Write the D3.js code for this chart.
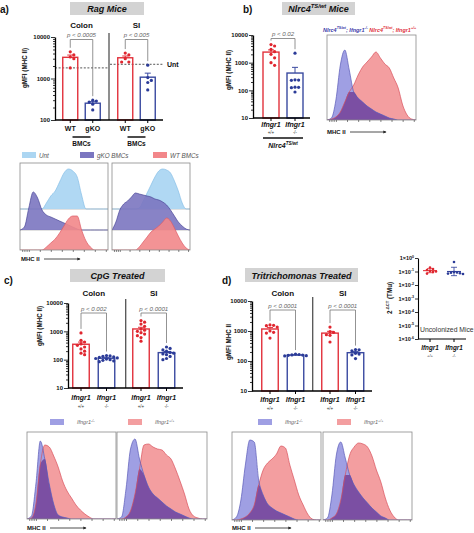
<!DOCTYPE html>
<html><head><meta charset="utf-8">
<script src="https://cdn.jsdelivr.net/npm/d3@7/dist/d3.min.js"></script>
<style>
html,body{margin:0;padding:0;background:#fff;}
svg{display:block;}
</style></head>
<body>
<svg id="fig" width="474" height="533"></svg>
<script>
// ================= DATA =================
// Panel a: Rag mice, gMFI (MHC II)
const ragTissues = ["Colon", "SI"];
const ragGenotypes = ["WT", "gKO"];
const ragColonWT = [4400, 3700, 3300, 3000, 1800];
const ragColonGKO = [300, 285, 270, 240, 175];
const ragSIWT = [4100, 3700, 3000, 2500, 2500];
const ragSIGKO = [2100, 1050, 900, 800, 530];
const ragUnt = [1800, 2200];
const ragPValues = ["p < 0.0005", "p < 0.005"];
const ragTicks = [100, 1000, 10000];

// Panel b: Nlrc4 TS/wt mice
const nlrcGroups = ["Nlrc4"];
const ifngGenotypes = ["+/+", "-/-"];
const nlrcWT = [4500, 4000, 3000, 2500, 2000, 1500, 1000, 800];
const nlrcKO = [2200, 240, 235, 230, 130, 128, 125, 87];
const nlrcPValues = ["p < 0.02"];
const ticks10 = [10, 100, 1000, 10000];

// Panel c: CpG treated
const cpgColonWT = [880, 480, 420, 360, 320, 280, 240, 200, 170, 150];
const cpgColonKO = [140, 135, 130, 125, 120, 115, 110, 105, 100, 95, 90, 85];
const cpgSIWT = [2400, 2100, 1800, 1500, 1200, 1100, 1000, 900, 800, 700, 600, 450];
const cpgSIKO = [280, 250, 220, 200, 180, 170, 160, 150, 130, 110, 100];
const cpgPValues = ["p < 0.002", "p < 0.0001"];

// Panel d: Tritrichomonas treated
const triColonWT = [1600, 1550, 1500, 1350, 1000, 900, 850, 580];
const triColonKO = [170, 165, 160, 158, 155, 150, 148];
const triSIWT = [1350, 950, 900, 750, 720, 430];
const triSIKO = [240, 235, 220, 180, 170, 160, 120];
const triPValues = ["p < 0.0001", "p < 0.0001"];

// Inset: 2^-dCT (TMu), uncolonized mice
const tmuWT = [0.2, 0.15, 0.13, 0.11, 0.1, 0.09, 0.07];
const tmuKO = [0.5, 0.09, 0.085, 0.08, 0.075, 0.07, 0.065];
const tmuExponents = [0, -1, -2, -3, -4, -5, -6];

// Flow histograms (relative counts per MHC II bin)
const histRagColonUnt = [0,0,0,0,0,0,6,13,18,27,36,40,38,32,14,0,0,0,0,0,0];
const histRagColonGKO = [0,3,22,38,32,20,15,13,11,9,7,5,3,1,0,0,0,0,0,0,0];
const histRagColonWT  = [0,0,0,0,0,0,3,7,11,17,24,31,34,34,20,9,3,0,0,0,0];
const histRagSIUnt    = [0,0,0,0,0,0,0,1,8,16,24,32,38,40,39,36,28,18,6,0,0];
const histRagSIGKO    = [0,8,20,26,29,33,37,36,35,34,33,31,30,28,25,20,14,8,4,1,0];
const histRagSIWT     = [0,0,0,0,0,0,0,3,8,13,18,21,24,28,32,29,22,14,7,2,0];

const histNlrcKO = [0,2,20,55,70,50,28,22,18,14,11,8,6,4,2,1,0,0,0,0,0];
const histNlrcWT = [0,1,3,8,18,28,35,45,53,58,63,68,62,56,52,42,32,15,5,1,0];

const histCpgColonKO = [0,3,35,78,60,35,15,4,2,1,0,0,0,0,0,0,0,0,0,0,0];
const histCpgColonWT = [0,1,15,55,74,72,63,52,38,28,21,14,9,5,2,0,0,0,0,0,0];
const histCpgSIKO    = [0,2,30,70,80,60,44,32,25,21,17,13,10,7,5,3,1,0,0,0,0];
const histCpgSIWT    = [0,0,2,8,25,50,74,75,72,70,69,64,60,50,38,25,10,3,1,0,0];

const histTriColonKO = [0,3,20,55,80,78,40,25,16,12,9,7,5,3,1,0,0,0,0,0,0];
const histTriColonWT = [0,0,1,3,7,15,35,50,57,61,66,74,72,55,40,25,15,6,1,0,0];
const histTriSIKO    = [0,2,25,65,78,62,45,35,28,22,17,12,8,4,2,0,0,0,0,0,0];
const histTriSIWT    = [0,0,2,6,20,45,65,73,77,76,73,64,50,38,22,10,3,0,0,0,0];

const histTicks = [0.5, 1, 1.5, 2, 4.5, 7, 9.5, 12, 14.5, 17, 19.5];

// ================= STYLE =================
const FONT = "'Liberation Sans', Arial, Helvetica, sans-serif";
const RED = "#e2323c", BLUE = "#3a4aa0", RED_DOT = "#e0262f", BLUE_DOT = "#2b3b98";
const svg = d3.select("#fig").attr("font-family", FONT);

const defs = svg.append("defs");
defs.append("marker").attr("id","arrow").attr("viewBox","0 0 6 6").attr("refX",5).attr("refY",3)
  .attr("markerWidth",4).attr("markerHeight",4).attr("orient","auto")
  .append("path").attr("d","M0,0 L6,3 L0,6 Z").attr("fill","#222");

function txt(g, x, y, s, size, opts = {}) {
  const t = g.append("text").attr("x", x).attr("y", y).attr("font-size", size).text(s);
  for (const k in opts) t.attr(k, opts[k]);
  return t;
}
function rich(g, x, y, parts, size, opts = {}) {
  const t = g.append("text").attr("x", x).attr("y", y).attr("font-size", size);
  for (const k in opts) t.attr(k, opts[k]);
  let shifted = 0;
  parts.forEach(p => {
    const sp = t.append("tspan").text(p.t);
    if (p.sup) { sp.attr("font-size", size * 0.65).attr("dy", -size * 0.4 - shifted); shifted = -size * 0.4; }
    else if (shifted) { sp.attr("dy", -shifted); shifted = 0; }
    if (p.fill) sp.attr("fill", p.fill);
  });
  return t;
}
function titleBox(x, y, w, h, parts, size) {
  svg.append("rect").attr("x", x).attr("y", y).attr("width", w).attr("height", h).attr("fill", "#d3d3d3");
  rich(svg, x + w / 2, y + h - 3, parts, size, {"text-anchor": "middle", "font-weight": "bold", "font-style": "italic", "fill": "#111"});
}
function swarm(values, y, cx, r) {
  const pts = values.map(v => ({v, py: y(v)})).sort((a, b) => a.py - b.py);
  const placed = [];
  const step = 2 * r + 0.4;
  pts.forEach(d => {
    const cands = [0];
    for (let k = 1; k < 8; k++) cands.push(k * step, -k * step);
    d.px = cx;
    for (const off of cands) {
      if (placed.every(p => Math.hypot(p.px - (cx + off), p.py - d.py) >= 2 * r + 0.3)) { d.px = cx + off; break; }
    }
    placed.push(d);
  });
  return placed;
}
function logAxis(g, y, x, decades) {
  const minor = [];
  decades.slice(0, -1).forEach(d => { for (let k = 2; k < 10; k++) minor.push(d * k); });
  const ax = d3.axisLeft(y).tickValues(decades.concat(minor)).tickSize(4).tickSizeOuter(0)
    .tickFormat(d => decades.includes(d) ? d3.format("d")(d) : "");
  const ga = g.append("g").attr("transform", `translate(${x},0)`).call(ax);
  ga.select(".domain").attr("stroke", "#000").attr("stroke-width", 1.3);
  ga.selectAll(".tick line").attr("stroke", "#000").attr("stroke-width", 0.8);
  ga.selectAll(".tick").filter(d => !decades.includes(d)).select("line").attr("x2", -2);
  ga.selectAll("text").attr("font-size", 6).attr("font-weight", "bold").attr("font-family", FONT).attr("x", -5).attr("fill", "#111");
}

function barChart(o) {
  const g = svg.append("g");
  const y = d3.scaleLog().domain(o.domain).range([o.yBot, o.yTop]);
  const outer = d3.scaleBand().domain(o.groups).range(o.range);
  const inner = d3.scalePoint().domain(o.genos).range([-o.half, o.half]);
  const cx = (gr, ge) => outer(gr) + outer.bandwidth() / 2 + inner(ge);

  for (let i = 1; i < o.groups.length; i++) {
    const xd = outer(o.groups[i]) + (o.divShift || 0);
    g.append("line").attr("x1", xd).attr("x2", xd).attr("y1", o.yTop - 4).attr("y2", o.yBot)
      .attr("stroke", "#333").attr("stroke-width", 1.1);
  }
  if (o.ref) {
    o.groups.forEach((gr, i) => {
      g.append("line").attr("x1", Math.max(outer(gr) + 1, o.axisX)).attr("x2", outer(gr) + outer.bandwidth() - 1)
        .attr("y1", y(o.ref[i])).attr("y2", y(o.ref[i]))
        .attr("stroke", "#555").attr("stroke-width", 1).attr("stroke-dasharray", "2,1.6");
    });
    txt(g, outer.range()[1] + 3, y(o.ref[o.ref.length - 1]) + 2.5, "Unt", 7, {"font-weight": "bold", fill: "#111"});
  }
  const stats = {};
  o.series.forEach(s => {
    const c = cx(s.group, s.geno);
    const m = d3.mean(s.values);
    const sem = d3.deviation(s.values) / Math.sqrt(s.values.length);
    stats[s.group + s.geno] = {c, top: Math.min(y(d3.max(s.values)), y(m + sem))};
    g.append("line").attr("x1", c).attr("x2", c).attr("y1", y(m)).attr("y2", y(m + sem)).attr("stroke", s.color).attr("stroke-width", 1);
    g.append("line").attr("x1", c - 3).attr("x2", c + 3).attr("y1", y(m + sem)).attr("y2", y(m + sem)).attr("stroke", s.color).attr("stroke-width", 1);
    g.append("rect").attr("x", c - o.barW / 2).attr("y", y(m)).attr("width", o.barW).attr("height", o.yBot - y(m))
      .attr("fill", "none").attr("stroke", s.color).attr("stroke-width", 1.4);
    swarm(s.values, y, c, 1.6).forEach(d => {
      g.append("circle").attr("cx", d.px).attr("cy", d.py).attr("r", 1.6).attr("fill", s.dot);
    });
  });
  logAxis(g, y, o.axisX, o.ticks);
  g.append("line").attr("x1", o.axisX).attr("x2", o.xEnd).attr("y1", o.yBot).attr("y2", o.yBot).attr("stroke", "#000").attr("stroke-width", 1.3);
  o.series.forEach(s => {
    const c = cx(s.group, s.geno);
    g.append("line").attr("x1", c).attr("x2", c).attr("y1", o.yBot).attr("y2", o.yBot + 3).attr("stroke", "#000").attr("stroke-width", 1);
  });
  o.groups.forEach((gr, i) => {
    const a = stats[gr + o.genos[0]], b = stats[gr + o.genos[1]];
    g.append("path").attr("d", `M${a.c},${a.top - 4}V${o.brY}H${b.c}V${b.top - 4}`)
      .attr("fill", "none").attr("stroke", "#777").attr("stroke-width", 0.8);
    txt(g, (a.c + b.c) / 2, o.brY - 2.3, o.pvals[i], 6.1, {"text-anchor": "middle", "font-style": "italic", fill: "#666"});
    if (o.groupLabelY) txt(g, (a.c + b.c) / 2, o.groupLabelY, gr, 8, {"text-anchor": "middle", "font-weight": "bold", fill: "#111"});
  });
  if (o.xLabels) o.xLabels(g, cx);
  txt(g, 0, 0, o.yLabel, 6.3, {"font-weight": "bold", "text-anchor": "middle", fill: "#111",
      transform: `translate(${o.yLabelX},${o.yLabelY}) rotate(-90)`});
  return {y, cx};
}

function histogram(o) {
  const g = svg.append("g");
  const n = o.rows[0].data.length;
  const x = d3.scaleLinear().domain([0, n - 1]).range([o.x0, o.x1]);
  const id = "clip" + Math.round(o.x0) + "_" + Math.round(o.y0);
  g.append("clipPath").attr("id", id).append("rect").attr("x", o.x0).attr("y", o.y0).attr("width", o.x1 - o.x0).attr("height", o.y1 - o.y0);
  const inner = g.append("g").attr("clip-path", `url(#${id})`);
  (o.baselines || []).forEach(b => inner.append("line").attr("x1", o.x0).attr("x2", o.x1).attr("y1", b).attr("y2", b).attr("stroke", "#aaa").attr("stroke-width", 0.7));
  const mk = r => {
    const y = d3.scaleLinear().domain([0, 100]).range([r.base, r.base - 100]);
    return {
      area: d3.area().x((d, i) => x(i)).y0(r.base).y1(d => y(d)).curve(d3.curveMonotoneX),
      line: d3.line().x((d, i) => x(i)).y(d => y(d)).curve(d3.curveMonotoneX)
    };
  };
  o.rows.forEach(r => {
    const f = mk(r);
    inner.append("path").datum(r.data).attr("d", f.area).attr("fill", r.fill).attr("fill-opacity", r.opacity || 1);
    if (!o.overlap) inner.append("path").datum(r.data).attr("d", f.line).attr("fill", "none").attr("stroke", r.stroke).attr("stroke-width", 0.7);
  });
  if (o.overlap) {
    const [a, b] = o.rows;
    const mins = a.data.map((v, i) => Math.min(v, b.data[i]));
    inner.append("path").datum(mins).attr("d", mk(a).area).attr("fill", o.overlap);
    o.rows.forEach(r => inner.append("path").datum(r.data).attr("d", mk(r).line).attr("fill", "none").attr("stroke", r.stroke).attr("stroke-width", 0.7));
  }
  g.append("rect").attr("x", o.x0).attr("y", o.y0).attr("width", o.x1 - o.x0).attr("height", o.y1 - o.y0)
    .attr("fill", "none").attr("stroke", "#8a8a8a").attr("stroke-width", 0.8);
  const ax = d3.axisBottom(x).tickValues(histTicks).tickSize(2).tickFormat("");
  const ga = g.append("g").attr("transform", `translate(0,${o.y1})`).call(ax);
  ga.select(".domain").remove();
  ga.selectAll(".tick line").attr("stroke", "#333").attr("stroke-width", 0.6);
}
function mhcArrow(x, y, len) {
  txt(svg, x, y, "MHC II", 6, {"font-weight": "bold", fill: "#111"});
  svg.append("line").attr("x1", x + 23).attr("x2", x + 23 + len).attr("y1", y - 2).attr("y2", y - 2)
    .attr("stroke", "#222").attr("stroke-width", 0.8).attr("marker-end", "url(#arrow)");
}

// colours for histograms
const H_RED = "#f39ea0", H_RED_S = "#d9505c", H_BLUE = "#9f9fe3", H_BLUE_S = "#5a5ab8", H_OVER = "#7b4fa3";

// ================= PANEL LETTERS & TITLES =================
txt(svg, 0, 13, "a)", 10, {"font-weight": "bold", fill: "#111"});
txt(svg, 243, 13, "b)", 10, {"font-weight": "bold", fill: "#111"});
txt(svg, 4, 284, "c)", 10, {"font-weight": "bold", fill: "#111"});
txt(svg, 222, 284, "d)", 10, {"font-weight": "bold", fill: "#111"});
titleBox(70, 2, 74, 13, [{t: "Rag Mice"}], 9);
titleBox(282, 2, 73, 13, [{t: "Nlrc4"}, {t: "TS/wt", sup: true}, {t: " Mice"}], 9);
titleBox(70, 269, 95, 13, [{t: "CpG Treated"}], 9);
titleBox(245, 268, 113, 14, [{t: "Tritrichomonas Treated"}], 9);

// ================= PANEL A =================
barChart({
  domain: [100, 10000], yTop: 37, yBot: 120, axisX: 55, xEnd: 163,
  groups: ragTissues, genos: ragGenotypes, range: [54, 164], half: 11.25, barW: 15,
  ticks: ragTicks, ref: ragUnt, pvals: ragPValues, brY: 39.5, groupLabelY: 28,
  series: [
    {group: "Colon", geno: "WT", values: ragColonWT, color: RED, dot: RED_DOT},
    {group: "Colon", geno: "gKO", values: ragColonGKO, color: BLUE, dot: BLUE_DOT},
    {group: "SI", geno: "WT", values: ragSIWT, color: RED, dot: RED_DOT},
    {group: "SI", geno: "gKO", values: ragSIGKO, color: BLUE, dot: BLUE_DOT}
  ],
  yLabel: "gMFI (MHC II)", yLabelX: 27, yLabelY: 68,
  xLabels: (g, cx) => {
    ragTissues.forEach(t => {
      ragGenotypes.forEach(ge => txt(g, cx(t, ge), 131, ge, 7, {"text-anchor": "middle", "font-weight": "bold", fill: "#111"}));
      const mid = (cx(t, ragGenotypes[0]) + cx(t, ragGenotypes[1])) / 2;
      g.append("line").attr("x1", mid - 9).attr("x2", mid + 9).attr("y1", 137).attr("y2", 137).attr("stroke", "#111").attr("stroke-width", 1.5);
      txt(g, mid, 146, "BMCs", 6.5, {"text-anchor": "middle", "font-weight": "bold", fill: "#111"});
    });
  }
});
// legend a
[[22, "#acd6f2", "Unt"], [80, "#7b76c0", "gKO BMCs"], [153, "#f2878a", "WT BMCs"]].forEach(([x, c, l]) => {
  svg.append("rect").attr("x", x).attr("y", 152).attr("width", 14).attr("height", 6).attr("fill", c);
  txt(svg, x + 17, 157.5, l, 6.3, {"font-style": "italic", fill: "#555"});
});
histogram({x0: 20, x1: 108, y0: 163, y1: 250, baselines: [209, 230], rows: [
  {data: histRagColonUnt, base: 209, fill: "#acd6f2", stroke: "#86bfe6", opacity: 0.95},
  {data: histRagColonGKO, base: 230, fill: "#7b76c0", stroke: "#4a4898", opacity: 0.9},
  {data: histRagColonWT, base: 250, fill: "#f2878a", stroke: "#dc5a66", opacity: 0.9}
]});
histogram({x0: 112, x1: 190, y0: 163, y1: 250, baselines: [209, 230], rows: [
  {data: histRagSIUnt, base: 209, fill: "#acd6f2", stroke: "#86bfe6", opacity: 0.95},
  {data: histRagSIGKO, base: 230, fill: "#7b76c0", stroke: "#4a4898", opacity: 0.9},
  {data: histRagSIWT, base: 250, fill: "#f2878a", stroke: "#dc5a66", opacity: 0.9}
]});
mhcArrow(21, 261, 36);

// ================= PANEL B =================
barChart({
  domain: [10, 10000], yTop: 35, yBot: 118, axisX: 253, xEnd: 310,
  groups: nlrcGroups, genos: ifngGenotypes, range: [253, 313], half: 12, barW: 16,
  ticks: ticks10, pvals: nlrcPValues, brY: 38.5,
  series: [
    {group: "Nlrc4", geno: "+/+", values: nlrcWT, color: RED, dot: RED_DOT},
    {group: "Nlrc4", geno: "-/-", values: nlrcKO, color: BLUE, dot: BLUE_DOT}
  ],
  yLabel: "gMFI (MHC II)", yLabelX: 231, yLabelY: 70,
  xLabels: (g, cx) => {
    ifngGenotypes.forEach(ge => {
      txt(g, cx("Nlrc4", ge), 127, "Ifngr1", 7, {"text-anchor": "middle", "font-weight": "bold", "font-style": "italic", fill: "#111"});
      txt(g, cx("Nlrc4", ge), 134, ge, 4.5, {"text-anchor": "middle", fill: "#333"});
    });
    g.append("line").attr("x1", 263).attr("x2", 303).attr("y1", 138).attr("y2", 138).attr("stroke", "#111").attr("stroke-width", 1.5);
    rich(g, 283, 148, [{t: "Nlrc4"}, {t: "TS/wt", sup: true}], 7, {"text-anchor": "middle", "font-weight": "bold", "font-style": "italic", fill: "#111"});
  }
});
histogram({x0: 327, x1: 416, y0: 35, y1: 120, overlap: H_OVER, rows: [
  {data: histNlrcWT, base: 120, fill: H_RED, stroke: H_RED_S},
  {data: histNlrcKO, base: 120, fill: H_BLUE, stroke: H_BLUE_S}
]});
rich(svg, 323, 31.5, [
  {t: "Nlrc4", fill: "#3a3aa8"}, {t: "TS/wt", sup: true, fill: "#3a3aa8"}, {t: "; Ifngr1", fill: "#3a3aa8"}, {t: "-/-", sup: true, fill: "#3a3aa8"},
  {t: " Nlrc4", fill: "#e0303a"}, {t: "TS/wt", sup: true, fill: "#e0303a"}, {t: "; Ifngr1", fill: "#e0303a"}, {t: "+/+", sup: true, fill: "#e0303a"}
], 5.6, {"font-weight": "bold", "font-style": "italic", textLength: 93, lengthAdjust: "spacingAndGlyphs"});
mhcArrow(327, 134, 36);

// ================= PANEL C =================
function ifngLabels(yb) {
  return (g, cx) => ["Colon", "SI"].forEach(t => ifngGenotypes.forEach(ge => {
    txt(g, cx(t, ge), yb, "Ifngr1", 7, {"text-anchor": "middle", "font-weight": "bold", "font-style": "italic", fill: "#111"});
    txt(g, cx(t, ge), yb + 7.5, ge, 4.5, {"text-anchor": "middle", fill: "#333"});
  }));
}
barChart({
  domain: [10, 10000], yTop: 303, yBot: 388, axisX: 68, xEnd: 183,
  groups: ["Colon", "SI"], genos: ifngGenotypes, range: [63.75, 183.75], half: 12.75, barW: 16.5, divShift: 2,
  ticks: ticks10, pvals: cpgPValues, brY: 313, groupLabelY: 296,
  series: [
    {group: "Colon", geno: "+/+", values: cpgColonWT, color: RED, dot: RED_DOT},
    {group: "Colon", geno: "-/-", values: cpgColonKO, color: BLUE, dot: BLUE_DOT},
    {group: "SI", geno: "+/+", values: cpgSIWT, color: RED, dot: RED_DOT},
    {group: "SI", geno: "-/-", values: cpgSIKO, color: BLUE, dot: BLUE_DOT}
  ],
  yLabel: "gMFI (MHC II)", yLabelX: 42, yLabelY: 326, xLabels: ifngLabels(400)
});
function ifngLegend(xb, xr, y) {
  svg.append("rect").attr("x", xb).attr("y", y - 3).attr("width", 14).attr("height", 6).attr("fill", H_BLUE);
  rich(svg, xb + 27, y + 2, [{t: "Ifngr1"}, {t: "-/-", sup: true}], 5.5, {"font-style": "italic", fill: "#666"});
  svg.append("rect").attr("x", xr).attr("y", y - 3).attr("width", 14).attr("height", 6).attr("fill", H_RED);
  rich(svg, xr + 27, y + 2, [{t: "Ifngr1"}, {t: "+/+", sup: true}], 5.5, {"font-style": "italic", fill: "#666"});
}
ifngLegend(50, 128, 422);
histogram({x0: 27, x1: 116, y0: 432, y1: 519, overlap: H_OVER, rows: [
  {data: histCpgColonWT, base: 519, fill: H_RED, stroke: H_RED_S},
  {data: histCpgColonKO, base: 519, fill: H_BLUE, stroke: H_BLUE_S}
]});
histogram({x0: 117, x1: 207, y0: 432, y1: 519, overlap: H_OVER, rows: [
  {data: histCpgSIWT, base: 519, fill: H_RED, stroke: H_RED_S},
  {data: histCpgSIKO, base: 519, fill: H_BLUE, stroke: H_BLUE_S}
]});
mhcArrow(27, 530, 36);

// ================= PANEL D =================
barChart({
  domain: [10, 10000], yTop: 301, yBot: 391, axisX: 252, xEnd: 372,
  groups: ["Colon", "SI"], genos: ifngGenotypes, range: [252.75, 372.75], half: 12.75, barW: 16.5,
  ticks: ticks10, pvals: triPValues, brY: 310, groupLabelY: 296,
  series: [
    {group: "Colon", geno: "+/+", values: triColonWT, color: RED, dot: RED_DOT},
    {group: "Colon", geno: "-/-", values: triColonKO, color: BLUE, dot: BLUE_DOT},
    {group: "SI", geno: "+/+", values: triSIWT, color: RED, dot: RED_DOT},
    {group: "SI", geno: "-/-", values: triSIKO, color: BLUE, dot: BLUE_DOT}
  ],
  yLabel: "gMFI MHC II", yLabelX: 231, yLabelY: 342, xLabels: ifngLabels(402)
});
ifngLegend(258, 337, 422);
histogram({x0: 232, x1: 321, y0: 432, y1: 520, overlap: H_OVER, rows: [
  {data: histTriColonWT, base: 520, fill: H_RED, stroke: H_RED_S},
  {data: histTriColonKO, base: 520, fill: H_BLUE, stroke: H_BLUE_S}
]});
histogram({x0: 323, x1: 412, y0: 432, y1: 520, overlap: H_OVER, rows: [
  {data: histTriSIWT, base: 520, fill: H_RED, stroke: H_RED_S},
  {data: histTriSIKO, base: 520, fill: H_BLUE, stroke: H_BLUE_S}
]});
mhcArrow(232, 530, 36);

// ================= INSET (TMu) =================
(function () {
  const g = svg.append("g");
  const y = d3.scaleLog().domain([1e-6, 1]).range([339, 258]);
  const x = d3.scalePoint().domain(ifngGenotypes).range([430, 454]);
  const ax = d3.axisLeft(y).tickValues(tmuExponents.map(e => Math.pow(10, e))).tickSize(3).tickSizeOuter(0).tickFormat("");
  const ga = g.append("g").attr("transform", "translate(418,0)").call(ax);
  ga.select(".domain").attr("stroke", "#000").attr("stroke-width", 1.1);
  ga.selectAll(".tick line").attr("stroke", "#000").attr("stroke-width", 0.8);
  tmuExponents.forEach(e => rich(g, 414, y(Math.pow(10, e)) + 2, [{t: "1×10"}, {t: String(e), sup: true}], 5.5, {"text-anchor": "end", "font-weight": "bold", fill: "#111"}));
  g.append("line").attr("x1", 418).attr("x2", 466).attr("y1", 339).attr("y2", 339).attr("stroke", "#000").attr("stroke-width", 1.1);
  [[tmuWT, "+/+", RED_DOT], [tmuKO, "-/-", BLUE_DOT]].forEach(([vals, ge, col]) => {
    const c = x(ge);
    g.append("line").attr("x1", c).attr("x2", c).attr("y1", 339).attr("y2", 342).attr("stroke", "#000");
    const logs = vals.map(v => Math.log10(v));
    const gm = Math.pow(10, d3.mean(logs)), gsd = Math.pow(10, d3.deviation(logs));
    const lo = gm / gsd, hi = gm * gsd;
    g.append("line").attr("x1", c).attr("x2", c).attr("y1", y(lo)).attr("y2", y(hi)).attr("stroke", col).attr("stroke-width", 0.8);
    [lo, hi].forEach(v => g.append("line").attr("x1", c - 3).attr("x2", c + 3).attr("y1", y(v)).attr("y2", y(v)).attr("stroke", col).attr("stroke-width", 0.8));
    g.append("line").attr("x1", c - 7).attr("x2", c + 7).attr("y1", y(gm)).attr("y2", y(gm)).attr("stroke", col).attr("stroke-width", 1);
    swarm(vals, y, c, 1.3).forEach(d => g.append("circle").attr("cx", d.px).attr("cy", d.py).attr("r", 1.3).attr("fill", col));
    txt(g, c, 350, "Ifngr1", 6.3, {"text-anchor": "middle", "font-weight": "bold", "font-style": "italic", fill: "#111"});
    txt(g, c, 357, ge, 4.3, {"text-anchor": "middle", fill: "#333"});
  });
  txt(g, 420, 332, "Uncolonized Mice", 6.8, {fill: "#333"});
  rich(g, 0, 0, [{t: "2"}, {t: "-ΔCT", sup: true}, {t: " (TMu)"}], 6.3,
    {"font-weight": "bold", "text-anchor": "middle", fill: "#111", transform: "translate(392,298) rotate(-90)"});
})();
</script>
</body></html>
